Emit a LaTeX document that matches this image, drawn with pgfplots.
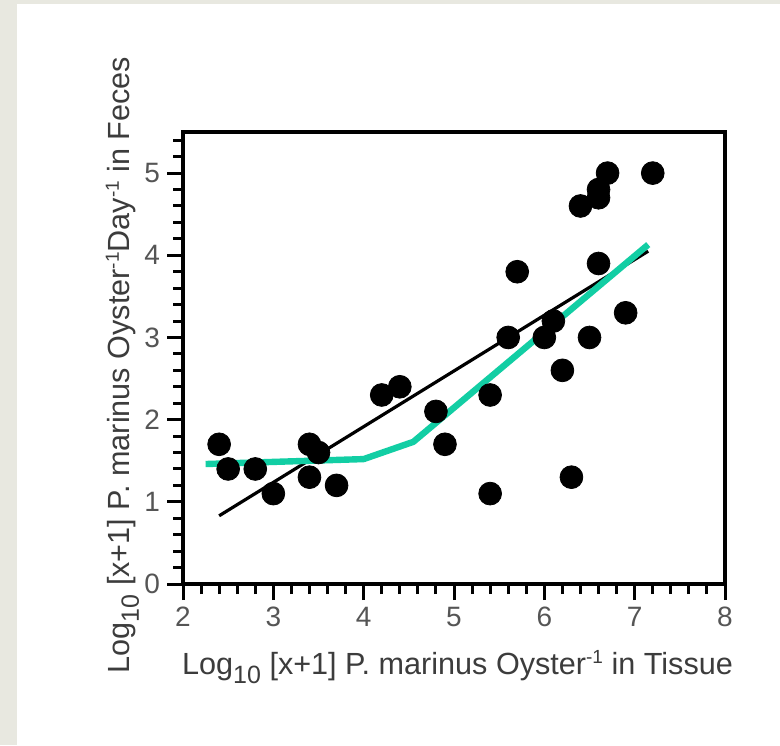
\documentclass[border=0pt]{standalone}
\usepackage{pgfplots}
\pgfplotsset{compat=1.18}
\usepackage{fontspec}
\setmainfont{Liberation Sans}

\definecolor{panelgray}{HTML}{E8E8E0}
\definecolor{fitgreen}{RGB}{18,206,164}
\definecolor{ticktext}{HTML}{555555}
\definecolor{labeltext}{HTML}{3C3C3C}

% large, well-dropped log subscript and raised exponent for the axis titles
\newcommand{\LogSub}{Log\raisebox{-4.5pt}{\fontsize{12.5}{12}\selectfont 10}}
\newcommand{\InvSup}{\raisebox{5.5pt}{\fontsize{9.5}{10}\selectfont -1}}

% Parasite counts: tissue load vs. fecal shedding (log10 scale)
\pgfplotstableread{
x   y
2.4 1.7
2.5 1.4
2.8 1.4
3.0 1.1
3.4 1.7
3.5 1.6
3.4 1.3
3.7 1.2
4.2 2.3
4.4 2.4
4.8 2.1
4.9 1.7
5.4 2.3
5.4 1.1
5.6 3.0
5.7 3.8
6.0 3.0
6.1 3.2
6.2 2.6
6.3 1.3
6.4 4.6
6.5 3.0
6.6 4.8
6.6 4.7
6.6 3.9
6.7 5.0
6.9 3.3
7.2 5.0
}\oysters

\begin{document}
\begin{tikzpicture}
\useasboundingbox (0,0) rectangle (390pt,372.5pt);
\fill[panelgray] (0,0) rectangle (390pt,372.5pt);
\fill[white] (8.5pt,0) rectangle (390pt,370.5pt);
\begin{axis}[
  at={(91.5pt,80.5pt)}, anchor=south west,
  scale only axis,
  width=271pt, height=226pt,
  xmin=2, xmax=8, ymin=0, ymax=5.5,
  xtick={2,...,8}, ytick={0,...,5},
  minor xtick={2.2,2.4,...,7.9},
  minor ytick={0.2,0.4,...,5.45},
  tick align=outside, tick pos=left,
  major tick length=8pt, minor tick length=5pt,
  every tick/.style={black, line width=1.5pt},
  axis line style={black, line width=1.6pt},
  /pgf/number format/assume math mode=true,
  ticklabel style={font=\fontsize{14}{16}\selectfont, text=ticktext},
  label style={font=\fontsize{15.3}{18}\selectfont, text=labeltext},
  xlabel={\LogSub{} [x+1] P. marinus Oyster\InvSup{} in Tissue},
  ylabel={\LogSub{} [x+1] P. marinus Oyster\InvSup Day\InvSup{} in Feces},
  xlabel style={at={(axis description cs:0.5065,-0.2013)}, anchor=base},
  ylabel style={at={(axis description cs:-0.0978,0.4845)}, anchor=base, rotate=0},
  clip=false,
]
\addplot[only marks, mark=*, mark size=5.7pt, black] table[x=x, y=y] {\oysters};
\addplot[black, line width=1.6pt] coordinates {(2.4,0.83) (7.15,4.05)};
\addplot[fitgreen, line width=3.2pt, line join=round] coordinates {(2.25,1.46) (4.0,1.52) (4.55,1.73) (7.15,4.13)};
\end{axis}
\end{tikzpicture}
\end{document}
